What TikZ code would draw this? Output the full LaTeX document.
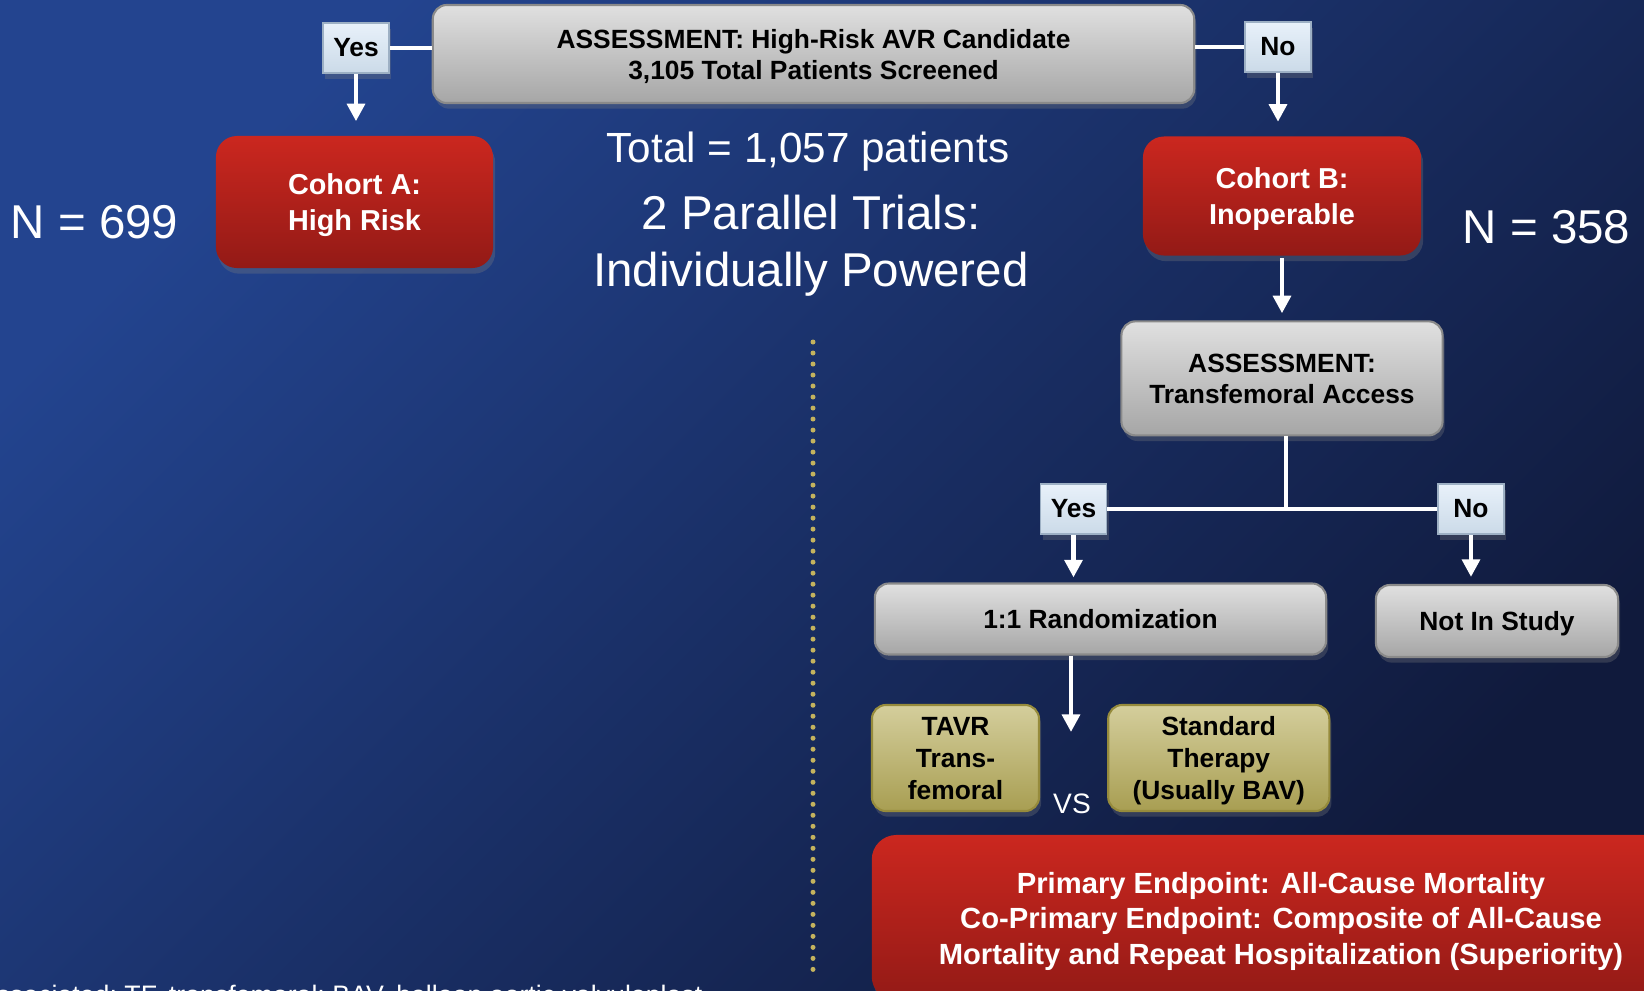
\documentclass[tikz,border=0pt]{standalone}
\usepackage{fontspec}
\setmainfont{Liberation Sans}
\usepackage{tikz}
\usetikzlibrary{positioning}
\usetikzlibrary{arrows.meta}
\usetikzlibrary{shadows}

\definecolor{bgtop}{HTML}{23448F}
\definecolor{bgbot}{HTML}{101A3C}
\definecolor{greytop}{HTML}{E0E0E0}
\definecolor{greybot}{HTML}{A6A6A6}
\definecolor{greyedge}{HTML}{8A8A8A}
\definecolor{redtop}{HTML}{CB271F}
\definecolor{redbot}{HTML}{931A16}
\definecolor{yntop}{HTML}{E8F1FA}
\definecolor{ynbot}{HTML}{CBDAE8}
\definecolor{ynedge}{HTML}{9DB0C4}
\definecolor{olivetop}{HTML}{D4CE9C}
\definecolor{olivebot}{HTML}{A89E52}
\definecolor{oliveedge}{HTML}{968B3C}
\definecolor{sepdot}{HTML}{C4B35E}

\begin{document}
\begin{tikzpicture}[x=0.01cm, y=-0.01cm,
	every node/.style={inner sep=0pt, align=center},
	shade box/.style={drop shadow={opacity=0.3, shadow xshift=0.6pt, shadow yshift=-1.6pt}},
	greybox/.style={shade box, draw=greyedge, line width=0.6pt, rounded corners=4pt, top color=greytop, bottom color=greybot, text depth=0pt, font=\fontsize{7.5pt}{8.8pt}\selectfont\bfseries},
	redbox/.style={shade box, rounded corners=6pt, top color=redtop, bottom color=redbot, text=white, text depth=0pt, font=\fontsize{8.2pt}{10pt}\selectfont\bfseries},
	ynbox/.style={shade box, draw=ynedge, line width=0.5pt, top color=yntop, bottom color=ynbot, minimum width=0.66cm, minimum height=0.5cm, font=\fontsize{7.5pt}{8.8pt}\selectfont\bfseries},
	olivebox/.style={shade box, draw=oliveedge, line width=0.6pt, rounded corners=4pt, top color=olivetop, bottom color=olivebot, text depth=0pt, font=\fontsize{7.5pt}{9.1pt}\selectfont\bfseries},
	bigtext/.style={text=white, font=\fontsize{13.5pt}{16.2pt}\selectfont},
	wire/.style={draw=white, line width=1.3pt},
	arr/.style={wire, -{Triangle[width=5pt,length=5pt]}}]
	\useasboundingbox (0,0) rectangle (1644,990);
	\clip (0,0) rectangle (1644,990);
	\shade[top color=bgtop, bottom color=bgbot, shading angle=45] (0,0) rectangle (1644,990);
	\coordinate (septop) at (813,342); \coordinate (sepbot) at (813,976);
	\draw[sepdot, line width=0.05cm, line cap=round, dash pattern=on 0pt off 0.11cm] (septop) -- (sepbot);

	\node at (813.5,54) (assess) [greybox, minimum width=7.61cm, minimum height=0.98cm] {ASSESSMENT: High-Risk AVR Candidate\\3,105 Total Patients Screened};
	\node at (356,48) (yesa) [ynbox] {Yes};
	\node at (1278,47) (noa) [ynbox] {No};
	\node at (354.5,202) (cohorta) [redbox, minimum width=2.77cm, minimum height=1.32cm] {Cohort A:\\High Risk};
	\node at (1282,196) (cohortb) [redbox, minimum width=2.78cm, minimum height=1.19cm] {Cohort B:\\Inoperable};
	\node at (94.5,238) (nhigh) [bigtext, anchor=base] {N = 699};
	\node at (1546.5,243) (ninop) [bigtext, anchor=base] {N = 358};
	\node at (808,162) (total) [text=white, anchor=base, font=\fontsize{12pt}{14pt}\selectfont] {Total = 1,057 patients};
	\node at (811,246) (trials) [bigtext] {2 Parallel Trials:\\Individually Powered};
	\node (tfaccess) [greybox, below=0.64cm of cohortb, minimum width=3.21cm, minimum height=1.14cm] {ASSESSMENT:\\Transfemoral Access};
	\node at (1073.5,509) (yesb) [ynbox] {Yes};
	\node at (1471,509) (nob) [ynbox] {No};
	\coordinate (split) at (1286,507);
	\node at (1100.5,619) (rando) [greybox, minimum width=4.51cm, minimum height=0.71cm] {1:1 Randomization};
	\node at (1497,621) (notin) [greybox, minimum width=2.42cm, minimum height=0.72cm] {Not In Study};
	\coordinate (armgap) at (1071,732);
	\node at (955.5,758) (tavr) [olivebox, minimum width=1.67cm, minimum height=1.06cm] {TAVR\\Trans-\\femoral};
	\node (stdther) [olivebox, right=0.67cm of tavr, minimum width=2.21cm, minimum height=1.06cm] {Standard\\Therapy\\(Usually BAV)};
	\node at (1072,813) (versus) [text=white, anchor=base, font=\fontsize{8pt}{9pt}\selectfont] {VS};
	\node at (1281,918) (endpt) [redbox, rounded corners=7pt, minimum width=8.18cm, minimum height=1.66cm, font=\fontsize{8.3pt}{10.1pt}\selectfont\bfseries] {Primary Endpoint: All-Cause Mortality\\Co-Primary Endpoint: Composite of All-Cause\\Mortality and Repeat Hospitalization (Superiority)};
	\node at (-4,1004) (abbrev) [anchor=base west, text=white, font=\fontsize{7.6pt}{9pt}\selectfont] {ssociated; TF, transfemoral; BAV, balloon aortic valvuloplast};

	\draw[wire] (yesa.east) -- (yesa.east -| assess.west); \draw[wire] (noa.west) -- (noa.west -| assess.east);
	\draw[arr, shorten >=0.14cm] (yesa.south) -- (yesa.south |- cohorta.north);
	\draw[arr, shorten >=0.14cm] (noa.south) -- (noa.south |- cohortb.north);
	\draw[arr, shorten <=0.02cm, shorten >=0.07cm] (cohortb.south) -- (cohortb.south |- tfaccess.north);
	\draw[wire] (split |- tfaccess.south) -- (split); \draw[wire] (yesb.east) -- (nob.west);
	\draw[arr, shorten >=0.05cm] (yesb.south) -- (yesb.south |- rando.north);
	\draw[arr, shorten >=0.07cm] (nob.south) -- (nob.south |- notin.north);
	\draw[arr] (rando.south -| armgap) -- (armgap);
\end{tikzpicture}
\end{document}
